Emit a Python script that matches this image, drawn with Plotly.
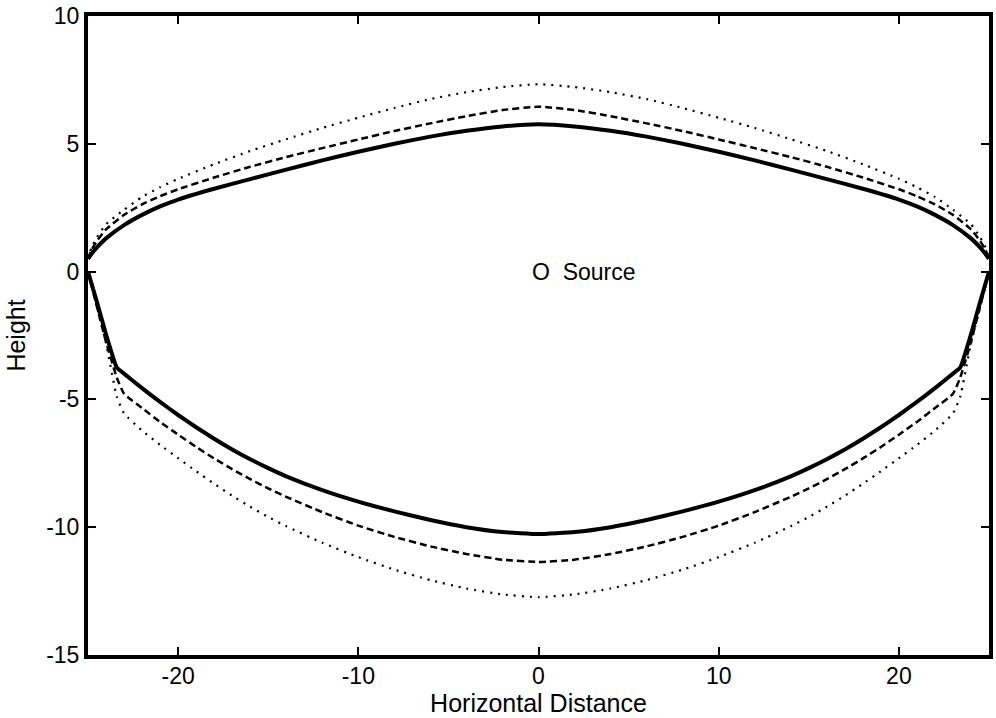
import plotly.graph_objects as go

# Upper boundary (x positions shared by the three upper curves)
x_upper = [-25, -24.8, -24.5, -24, -23, -22, -21, -20, -18, -16, -14, -12, -10, -8, -6, -4, -2, 0,
           2, 4, 6, 8, 10, 12, 14, 16, 18, 20, 21, 22, 23, 24, 24.5, 24.8, 25]
solid_upper = [0.5, 0.7, 0.95, 1.3, 1.82, 2.22, 2.55, 2.82, 3.24, 3.62, 3.99, 4.35, 4.69, 5.0, 5.28, 5.51, 5.68, 5.76,
               5.68, 5.51, 5.28, 5.0, 4.69, 4.35, 3.99, 3.62, 3.24, 2.82, 2.55, 2.22, 1.82, 1.3, 0.95, 0.7, 0.5]
dashed_upper = [0.5, 0.85, 1.2, 1.65, 2.22, 2.63, 2.95, 3.22, 3.68, 4.1, 4.48, 4.83, 5.17, 5.5, 5.8, 6.08, 6.32, 6.45,
                6.32, 6.08, 5.8, 5.5, 5.17, 4.83, 4.48, 4.1, 3.68, 3.22, 2.95, 2.63, 2.22, 1.65, 1.2, 0.85, 0.5]
dotted_upper = [0.5, 0.95, 1.35, 1.85, 2.42, 2.92, 3.3, 3.63, 4.2, 4.72, 5.18, 5.62, 6.02, 6.4, 6.75, 7.02, 7.22, 7.33,
                7.22, 7.02, 6.75, 6.4, 6.02, 5.62, 5.18, 4.72, 4.2, 3.63, 3.3, 2.92, 2.42, 1.85, 1.35, 0.95, 0.5]

# Lower boundary
x_lower = [-25, -24.5, -24, -23.4, -23, -22, -21, -20, -19, -18, -17, -16, -15, -14, -12, -10, -8, -6, -4, -2, 0,
           2, 4, 6, 8, 10, 12, 14, 15, 16, 17, 18, 19, 20, 21, 22, 23, 23.4, 24, 24.5, 25]
solid_lower = [0, -1.2, -2.45, -3.76, -3.99, -4.56, -5.1, -5.61, -6.09, -6.54, -6.96, -7.34, -7.69, -8.01, -8.55, -9.0, -9.38, -9.72, -10.0, -10.19, -10.27,
               -10.19, -10.0, -9.72, -9.38, -9.0, -8.55, -8.01, -7.69, -7.34, -6.96, -6.54, -6.09, -5.61, -5.1, -4.56, -3.99, -3.76, -2.45, -1.2, 0]
dashed_lower = [0, -1.38, -2.75, -4.15, -4.78, -5.34, -5.88, -6.38, -6.86, -7.31, -7.73, -8.12, -8.48, -8.81, -9.41, -9.94, -10.38, -10.75, -11.05, -11.27, -11.36,
                -11.27, -11.05, -10.75, -10.38, -9.94, -9.41, -8.81, -8.48, -8.12, -7.73, -7.31, -6.86, -6.38, -5.88, -5.34, -4.78, -4.15, -2.75, -1.38, 0]
dotted_lower = [0, -1.4, -2.8, -4.9, -5.55, -6.22, -6.78, -7.3, -7.81, -8.3, -8.77, -9.2, -9.6, -9.96, -10.61, -11.17, -11.66, -12.07, -12.4, -12.63, -12.74,
                -12.63, -12.4, -12.07, -11.66, -11.17, -10.61, -9.96, -9.6, -9.2, -8.77, -8.3, -7.81, -7.3, -6.78, -6.22, -5.55, -4.9, -2.8, -1.4, 0]

x_ticks = [-20, -10, 0, 10, 20]
y_ticks = [-15, -10, -5, 0, 5, 10]

FONT = "Liberation Sans, Arial, sans-serif"
fig = go.Figure()

styles = [
    (dotted_upper, dotted_lower, dict(color="black", width=2.2, dash="2px,6px")),
    (dashed_upper, dashed_lower, dict(color="black", width=2.5, dash="7px,4px")),
    (solid_upper, solid_lower, dict(color="black", width=4)),
]
for up, lo, ln in styles:
    fig.add_trace(go.Scatter(x=x_upper, y=up, mode="lines", line=dict(shape="spline", smoothing=0.5, **ln),
                             showlegend=False, hoverinfo="skip"))
    fig.add_trace(go.Scatter(x=x_lower, y=lo, mode="lines", line=dict(shape="spline", smoothing=0.4, **ln),
                             showlegend=False, hoverinfo="skip"))

fig.add_annotation(x=-0.45, y=0, xref="x", yref="y", text="O\u00a0\u00a0Source", showarrow=False,
                   xanchor="left", yanchor="middle", font=dict(family=FONT, size=23, color="black"))

axis_common = dict(showline=True, linecolor="black", linewidth=4, mirror="allticks", ticks="inside",
                   ticklen=8, tickwidth=2, tickcolor="black", showgrid=False, zeroline=False,
                   tickfont=dict(family=FONT, size=23, color="black"))

fig.update_xaxes(range=[-25, 25], tickvals=x_ticks, ticktext=[str(v) for v in x_ticks], ticklabelstandoff=-3,
                 title=dict(text="Horizontal Distance", font=dict(family=FONT, size=25, color="black"), standoff=1),
                 **axis_common)
fig.update_yaxes(range=[-15, 10], tickvals=y_ticks, ticktext=[str(v) for v in y_ticks],
                 title=dict(text="Height", font=dict(family=FONT, size=25, color="black"), standoff=14),
                 **axis_common)

fig.update_layout(width=996, height=718, margin=dict(l=88, r=3, t=16, b=63),
                  plot_bgcolor="white", paper_bgcolor="white",
                  font=dict(family=FONT, size=23, color="black"))

fig.write_html("out.html")
